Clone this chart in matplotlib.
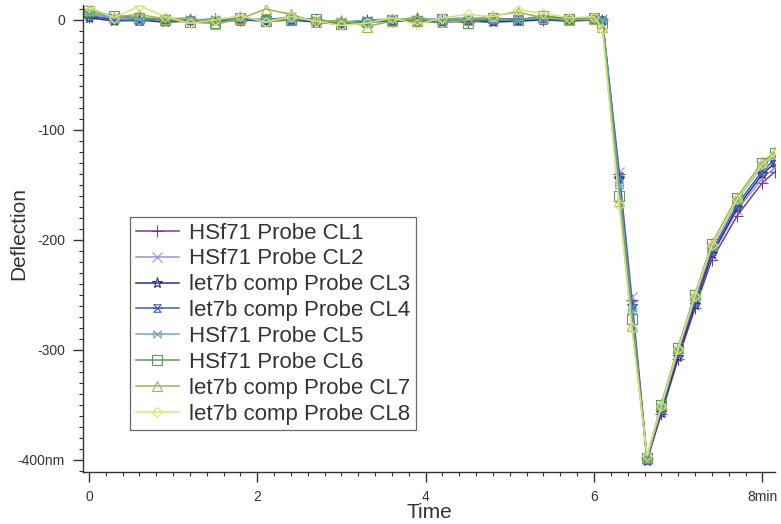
import numpy as np
import matplotlib
matplotlib.use('Agg')
import matplotlib.pyplot as plt
from matplotlib.path import Path
from matplotlib.ticker import MultipleLocator, FixedLocator

plt.rcParams['font.family'] = ['Liberation Sans', 'DejaVu Sans']

# time points (min)
t_base = [0.0, 0.3, 0.6, 0.9, 1.2, 1.5, 1.8, 2.1, 2.4, 2.7, 3.0, 3.3, 3.6, 3.9,
          4.2, 4.5, 4.8, 5.1, 5.4, 5.7, 6.0]
t_peak = [6.1, 6.3, 6.45, 6.63, 6.8, 7.0, 7.2, 7.4, 7.7, 8.0, 8.15]

labels = ['HSf71 Probe CL1', 'HSf71 Probe CL2', 'let7b comp Probe CL3', 'let7b comp Probe CL4',
          'HSf71 Probe CL5', 'HSf71 Probe CL6', 'let7b comp Probe CL7', 'let7b comp Probe CL8']

# deflection (nm) on the flat part
base_cl1 = [3, 1, 2, 0, -1, 1, 0, 0, 2, -1, -3, 0, -1, 1, 0, -2, 0, 1, 0, 1, 2]
base_cl2 = [5, 2, 0, 1, 0, -1, 1, 0, 3, 0, -2, -1, 0, 0, 1, 0, -1, 0, 2, 0, 1]
base_cl3 = [2, -1, 0, -2, -1, -1, 0, -1, 0, -2, -4, -2, -1, -1, -2, -1, -2, -1, 0, -1, 0]
base_cl4 = [4, 0, -1, 1, 0, 0, -1, 1, 0, -1, -3, -1, 0, -2, -1, 0, 0, 1, 0, 0, 1]
base_cl5 = [6, 3, 1, 2, 0, 1, 2, 0, 1, 0, -2, 0, 1, 0, 1, 2, 1, 0, 2, 1, 0]
base_cl6 = [8, 4, 2, 0, -2, -3, 2, -1, 0, 1, -4, -2, 0, -1, 1, -3, 2, 0, 4, 1, 2]
base_cl7 = [9, 3, 5, 1, 2, -4, 1, 10, 5, -2, 0, -6, -1, 3, -2, 0, 4, 7, 2, 0, 1]
base_cl8 = [12, 2, 13, 3, -3, 0, 4, -2, 3, -1, -5, -3, 2, -4, 2, 5, 3, 9, 6, 2, 3]

# deflection (nm) through the dip and recovery
peak_cl1 = [0, -140, -255, -398, -358, -308, -262, -218, -178, -148, -138]
peak_cl2 = [1, -138, -252, -399, -356, -305, -258, -214, -173, -144, -134]
peak_cl3 = [-1, -145, -260, -401, -357, -306, -259, -213, -171, -140, -130]
peak_cl4 = [0, -142, -258, -400, -355, -303, -256, -210, -168, -137, -127]
peak_cl5 = [1, -150, -265, -399, -352, -300, -252, -206, -164, -132, -123]
peak_cl6 = [-3, -160, -272, -398, -350, -298, -250, -204, -162, -130, -121]
peak_cl7 = [-6, -165, -278, -397, -349, -297, -249, -203, -161, -129, -120]
peak_cl8 = [-8, -168, -280, -396, -351, -299, -251, -205, -163, -131, -122]

bases = [base_cl1, base_cl2, base_cl3, base_cl4, base_cl5, base_cl6, base_cl7, base_cl8]
peaks = [peak_cl1, peak_cl2, peak_cl3, peak_cl4, peak_cl5, peak_cl6, peak_cl7, peak_cl8]

colors = ['#7a3f7e', '#9a92d6', '#2a2e86', '#3d5fae', '#6aaec4', '#5c9a5c', '#9db354', '#d9e27a']

hourglass = Path([(-1, 1), (1, 1), (-1, -1), (1, -1), (-1, 1), (-1.3, 0), (1.3, 0)],
                 [Path.MOVETO, Path.LINETO, Path.LINETO, Path.LINETO, Path.LINETO,
                  Path.MOVETO, Path.LINETO])
bowtie = Path([(-1, 1), (-1, -1), (1, 1), (1, -1), (-1, 1), (-1.3, 0), (1.3, 0)],
              [Path.MOVETO, Path.LINETO, Path.LINETO, Path.LINETO, Path.LINETO,
               Path.MOVETO, Path.LINETO])
markers = ['+', 'x', '*', hourglass, bowtie, 's', '^', 'D']
msizes = [8, 7, 8, 7, 7, 7, 7, 5]

fig = plt.figure(figsize=(7.81, 5.24), dpi=100)
ax = fig.add_axes([83 / 781, 1 - 472 / 524, 692 / 781, 467 / 524])

t = t_base + t_peak
for i in range(8):
    y = bases[i] + peaks[i]
    ax.plot(t, y, color=colors[i], lw=1.1, marker=markers[i], ms=msizes[i],
            mfc='none', mec=colors[i], mew=0.8, label=labels[i])

ax.set_xlim(-0.07, 8.15)
ax.set_ylim(-411, 13.6)
for s in ['top', 'right']:
    ax.spines[s].set_visible(False)
for s in ['left', 'bottom']:
    ax.spines[s].set_color('#333333')
    ax.spines[s].set_linewidth(1.0)

ax.xaxis.set_major_locator(FixedLocator([0, 2, 4, 6, 8]))
ax.xaxis.set_minor_locator(MultipleLocator(0.2))
ax.yaxis.set_major_locator(FixedLocator([0, -100, -200, -300, -400]))
ax.yaxis.set_minor_locator(MultipleLocator(10))
ax.set_xticklabels(['0', '2', '4', '6', '8min'])
ax.set_yticklabels(['0', '-100', '-200', '-300', '-400nm'])
ax.tick_params(which='major', direction='out', length=7, width=1, colors='#333333',
               labelsize=10, pad=6)
ax.tick_params(which='minor', direction='out', length=3, width=0.8, colors='#333333')

ax.set_xlabel('Time', fontsize=15, color='#333333', labelpad=-1)
ax.set_ylabel('Deflection', fontsize=15, color='#333333')
ax.yaxis.set_label_coords((28 - 83) / 692, (472 - 233.5) / 467)

leg = ax.legend(loc='upper left', bbox_to_anchor=(130 / 781, 1 - 217 / 524),
                bbox_transform=fig.transFigure, borderaxespad=0, fontsize=16,
                frameon=True, fancybox=False, edgecolor='#444444', handlelength=1.95,
                handletextpad=0.45, labelspacing=0.22, borderpad=0.25)
leg.get_frame().set_linewidth(0.9)
for txt in leg.get_texts():
    txt.set_color('#333333')

fig.savefig('out.png', dpi=100)
